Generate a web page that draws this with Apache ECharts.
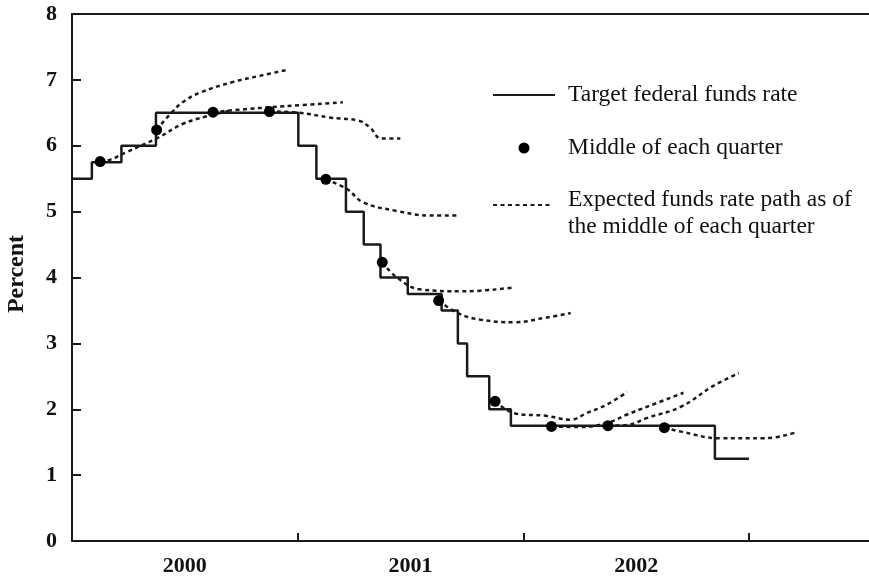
<!DOCTYPE html>
<html>
<head>
<meta charset="utf-8">
<script src="https://cdn.jsdelivr.net/npm/echarts@6/dist/echarts.min.js"></script>
<style>
  html, body { margin: 0; background: #fff; }
  #chart { width: 869px; height: 582px; }
</style>
</head>
<body>
<div id="chart"></div>
<script>
// year boundaries get ticks, mid-years get the labels
const yearTicks = [2000, 2001, 2002, 2003];
const yearLabels = [2000.5, 2001.5, 2002.5];
const yTicks = [0, 1, 2, 3, 4, 5, 6, 7, 8];

// target federal funds rate, each value holds from its date on
const targetDates = [2000.0, 2000.088, 2000.219, 2000.372, 2001.003, 2001.083, 2001.214, 2001.293,
  2001.367, 2001.488, 2001.638, 2001.710, 2001.751, 2001.849, 2001.945, 2002.849, 2003.0];
const targetRates = [5.5, 5.75, 6.0, 6.5, 6.0, 5.5, 5.0, 4.5, 4.0, 3.75, 3.5, 3.0, 2.5, 2.0, 1.75, 1.25, 1.25];

// middle of each quarter
const quarterMids = [2000.125, 2000.375, 2000.625, 2000.875, 2001.125, 2001.375, 2001.625, 2001.875,
  2002.125, 2002.375, 2002.625];
const quarterRates = [5.76, 6.24, 6.51, 6.52, 5.49, 4.23, 3.65, 2.12, 1.74, 1.75, 1.72];

// expected paths as of each quarter middle, [date, rate]
const expectedPaths = [
  [[2000.125, 5.76], [2000.17, 5.79], [2000.24, 5.90], [2000.38, 6.12], [2000.49, 6.33], [2000.60, 6.45], [2000.70, 6.53]],
  [[2000.375, 6.24], [2000.435, 6.48], [2000.49, 6.66], [2000.57, 6.81], [2000.715, 6.97], [2000.83, 7.06], [2000.95, 7.15]],
  [[2000.625, 6.51], [2000.715, 6.54], [2000.94, 6.60], [2001.20, 6.66]],
  [[2000.875, 6.52], [2001.01, 6.50], [2001.14, 6.43], [2001.27, 6.38], [2001.32, 6.28], [2001.37, 6.11], [2001.455, 6.11]],
  [[2001.125, 5.49], [2001.22, 5.34], [2001.29, 5.14], [2001.44, 5.01], [2001.59, 4.94], [2001.71, 4.94]],
  [[2001.375, 4.23], [2001.44, 4.00], [2001.54, 3.82], [2001.735, 3.79], [2001.96, 3.85]],
  [[2001.625, 3.65], [2001.71, 3.46], [2001.81, 3.36], [2001.96, 3.32], [2002.10, 3.39], [2002.21, 3.46]],
  [[2001.875, 2.12], [2001.96, 1.94], [2002.10, 1.90], [2002.21, 1.84], [2002.28, 1.94], [2002.37, 2.07], [2002.46, 2.26]],
  [[2002.125, 1.74], [2002.25, 1.73], [2002.37, 1.79], [2002.46, 1.92], [2002.55, 2.04], [2002.71, 2.25]],
  [[2002.375, 1.75], [2002.46, 1.76], [2002.55, 1.87], [2002.70, 2.04], [2002.84, 2.35], [2002.955, 2.55]],
  [[2002.625, 1.72], [2002.70, 1.66], [2002.87, 1.56], [2003.07, 1.56], [2003.21, 1.65]]
];

const ink = '#1a1a1a';
const serif = '"Liberation Serif", "Times New Roman", serif';

const chart = echarts.init(document.getElementById('chart'));

const series = [];
expectedPaths.forEach(path => {
  series.push({
    name: 'expected',
    type: 'line',
    data: path,
    smooth: 0.4,
    symbol: 'none',
    silent: true,
    lineStyle: { color: ink, width: 2.5, type: [4, 3.5] },
    z: 2
  });
});
series.push({
  name: 'target',
  type: 'line',
  step: 'end',
  data: targetDates.map((d, i) => [d, targetRates[i]]),
  symbol: 'none',
  lineStyle: { color: ink, width: 2.5 },
  z: 3
});
series.push({
  name: 'quarter',
  type: 'scatter',
  data: quarterMids.map((d, i) => [d, quarterRates[i]]),
  symbol: 'circle',
  symbolSize: 11,
  itemStyle: { color: '#000', opacity: 1 },
  z: 4
});

const option = {
  backgroundColor: '#fff',
  animation: false,
  grid: { left: 72, right: 0, top: 14, bottom: 41 },
  xAxis: [{
    type: 'value',
    min: 2000,
    max: 2003.532,
    splitLine: { show: false },
    axisLine: { lineStyle: { color: ink, width: 2 } },
    axisTick: { inside: true, length: 8, customValues: yearTicks, lineStyle: { color: ink, width: 2 } },
    axisLabel: {
      customValues: yearLabels,
      formatter: v => String(Math.floor(v)),
      margin: 14,
      color: '#111',
      fontFamily: serif,
      fontWeight: 'bold',
      fontSize: 22
    }
  }, {
    type: 'value',
    position: 'top',
    min: 2000,
    max: 2003.532,
    splitLine: { show: false },
    axisLine: { show: true, lineStyle: { color: ink, width: 2 } },
    axisTick: { show: false },
    axisLabel: { show: false }
  }],
  yAxis: {
    type: 'value',
    min: 0,
    max: 8,
    interval: 1,
    splitLine: { show: false },
    axisLine: { show: true, lineStyle: { color: ink, width: 2 } },
    axisTick: { show: true, inside: true, length: 9, lineStyle: { color: ink, width: 2 } },
    axisLabel: {
      margin: 15,
      color: '#111',
      fontFamily: serif,
      fontWeight: 'bold',
      fontSize: 22,
      formatter: v => (yTicks.indexOf(v) >= 0 ? String(v) : '')
    }
  },
  graphic: [
    {
      type: 'text', x: 17, y: 274, rotation: Math.PI / 2,
      style: { text: 'Percent', font: 'bold 24px ' + serif, fill: '#111', align: 'center', verticalAlign: 'middle' }
    },
    { type: 'line', shape: { x1: 493, y1: 95, x2: 555, y2: 95 }, style: { stroke: ink, lineWidth: 2 } },
    {
      type: 'text', x: 568, y: 95,
      style: { text: 'Target federal funds rate', font: '23.5px ' + serif, fill: '#111', verticalAlign: 'middle' }
    },
    { type: 'circle', shape: { cx: 524, cy: 148, r: 5.5 }, style: { fill: '#000' } },
    {
      type: 'text', x: 568, y: 148,
      style: { text: 'Middle of each quarter', font: '23.5px ' + serif, fill: '#111', verticalAlign: 'middle' }
    },
    { type: 'line', shape: { x1: 493, y1: 205, x2: 553, y2: 205 }, style: { stroke: ink, lineWidth: 2, lineDash: [4, 3.5] } },
    {
      type: 'text', x: 568, y: 200,
      style: { text: 'Expected funds rate path as of', font: '23.5px ' + serif, fill: '#111', verticalAlign: 'middle' }
    },
    {
      type: 'text', x: 568, y: 227,
      style: { text: 'the middle of each quarter', font: '23.5px ' + serif, fill: '#111', verticalAlign: 'middle' }
    }
  ],
  series: series
};

chart.setOption(option);
</script>
</body>
</html>
